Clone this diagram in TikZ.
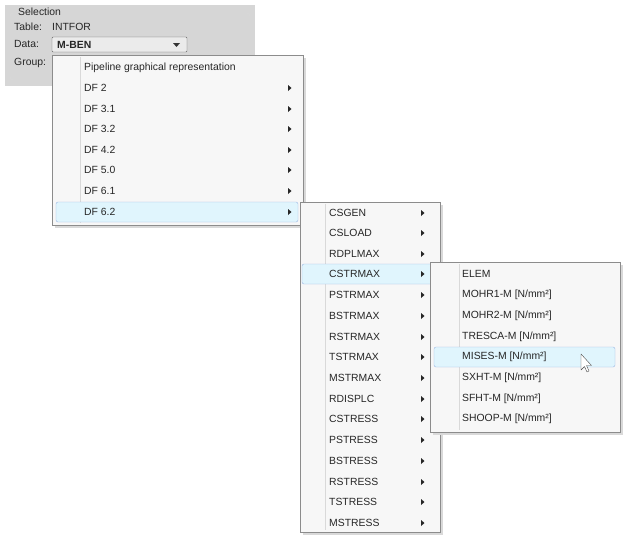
\documentclass[tikz,border=0pt]{standalone}
\usepackage{fontspec}
\setmainfont{Liberation Sans}
\begin{document}
\begin{tikzpicture}[x=1pt,y=-1pt,
  txt/.style={anchor=west,inner sep=0pt,font=\fontsize{10.4}{12}\selectfont,text=black!85},
  menu/.style={draw=black!45,fill=black!3},
  shadow/.style={fill=black!15},
  hl/.style={draw=cyan!50!blue!40,fill=cyan!12,rounded corners=2pt},
  gut/.style={draw=black!15},
  arr/.style={fill=black!85}]
\useasboundingbox (0,0) rectangle (628,546);
\fill[white] (0,0) rectangle (628,546);
% selection panel
\fill[black!16] (5,5) rectangle (255,86);
\draw[white!85!black,rounded corners=3pt] (10,13) rectangle (250,80);
\node[txt,fill=black!16,inner xsep=2pt] (sel) at (16,12) {Selection};
\node[txt] (tab) at (14,27) {Table:};
\node[txt] (intf) at (52,27) {INTFOR};
\node[txt] (dat) at (14,44) {Data:};
\draw[black!60,fill=black!8,rounded corners=1pt] (52,37) rectangle (187,52);
\node[txt,font=\fontsize{10.4}{12}\selectfont\bfseries] (mben) at (57,44.5) {M-BEN};
\fill[black!80] (173,43) -- (180,43) -- (176.5,47) -- cycle;
\node[txt] (grp) at (14,63) {Group:};
% menu 1
\fill[shadow] (55,58) rectangle (306,228);
\draw[menu] (52,55) rectangle (303,225);
\draw[gut] (80,57) -- (80,223);
\draw[hl] (56,202) rectangle (298,222);
\node[txt] (m0) at (84,68) {Pipeline graphical representation};
\foreach \t/\y [count=\i] in {DF 2/88,DF 3.1/109,DF 3.2/129,DF 4.2/150,DF 5.0/170,DF 6.1/191,DF 6.2/212}{
  \node[txt] (m\i) at (84,\y) {\t};
  \fill[arr] (288,\y-3) -- (291.5,\y) -- (288,\y+3) -- cycle;
}
% menu 2
\fill[shadow] (303,205) rectangle (443,535);
\draw[menu] (300,202) rectangle (440,532);
\draw[gut] (325,204) -- (325,530);
\draw[hl] (302,264) rectangle (435,284);
\foreach \t/\y [count=\i] in {CSGEN/213,CSLOAD/233,RDPLMAX/254,CSTRMAX/274,PSTRMAX/295,BSTRMAX/316,RSTRMAX/337,TSTRMAX/357,MSTRMAX/378,RDISPLC/399,CSTRESS/419,PSTRESS/440,BSTRESS/461,RSTRESS/482,TSTRESS/502,MSTRESS/523}{
  \node[txt] (n\i) at (329,\y) {\t};
  \fill[arr] (421,\y-3) -- (424.5,\y) -- (421,\y+3) -- cycle;
}
% menu 3
\fill[shadow] (433,265) rectangle (623,435);
\draw[menu] (430,262) rectangle (620,432);
\draw[gut] (459,264) -- (459,430);
\draw[hl] (434,347) rectangle (615,367);
\foreach \t/\y [count=\i] in {{ELEM}/274,{MOHR1-M [N/mm²]}/295,{MOHR2-M [N/mm²]}/316,{TRESCA-M [N/mm²]}/337,{MISES-M [N/mm²]}/357,{SXHT-M [N/mm²]}/378,{SFHT-M [N/mm²]}/399,{SHOOP-M [N/mm²]}/419}{
  \node[txt] (p\i) at (462,\y) {\t};
}
% cursor
\draw[black!70,fill=white,line join=round] (581,354) -- (581,370) -- (584.5,366.5) -- (587,372) -- (589,371) -- (586.5,365.5) -- (591.5,365.5) -- cycle;
\end{tikzpicture}
\end{document}
